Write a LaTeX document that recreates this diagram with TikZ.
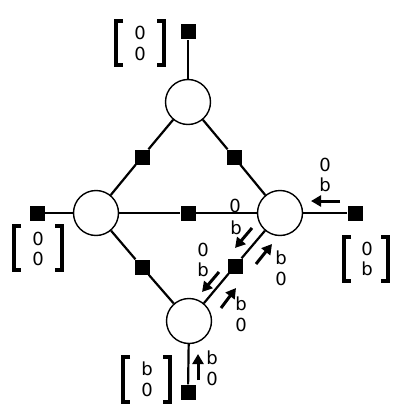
\documentclass[tikz,border=0pt]{standalone}
\usepackage{fontspec}
\setmainfont{DejaVu Sans}
\usetikzlibrary{arrows.meta}
\tikzset{
  var/.style={circle,draw,line width=1.4pt,fill=white,minimum size=45pt,inner sep=0pt},
  fac/.style={rectangle,fill=black,minimum size=15pt,inner sep=0pt},
  edge/.style={line width=2.2pt},
  msg/.style={line width=3pt,-{Triangle[length=10pt,width=11pt]}},
  lbl/.style={font=\fontsize{18}{21}\selectfont,inner sep=0pt},
  brk/.style={line width=4pt},
}
\newcommand{\brkt}[4]{% x1 x2 ytop ybot
  \draw[brk] (#1+7,#3)--(#1,#3)--(#1,#4)--(#1+7,#4);
  \draw[brk] (#2-7,#3)--(#2,#3)--(#2,#4)--(#2-7,#4);
}
\begin{document}
\begin{tikzpicture}[x=1pt,y=-1pt]
\useasboundingbox (0,0) rectangle (407,412);
% variable nodes
\node[var] (ct) at (188,102) {};
\node[var] (cl) at (96,213) {};
\node[var] (cr) at (280,213) {};
\node[var] (cb) at (189,321) {};
% factor nodes
\node[fac] (ft) at (188,32) {};
\node[fac] (fl) at (37,213) {};
\node[fac] (fr) at (355,213) {};
\node[fac] (fb) at (188,392) {};
\node[fac] (fm) at (188,213) {};
\node[fac] (ful) at (142,157) {};
\node[fac] (fur) at (234,157) {};
\node[fac] (fll) at (142,267) {};
\node[fac] (flr) at (235,266) {};
% edges
\draw[edge] (ct) -- (ft);
\draw[edge] (ct) -- (ful) -- (cl);
\draw[edge] (ct) -- (fur) -- (cr);
\draw[edge] (cl) -- (fm) -- (cr);
\draw[edge] (cl) -- (fll) -- (cb);
\draw[edge] (cr) -- (flr) -- (cb);
\draw[edge] (cl) -- (fl);
\draw[edge] (cr) -- (fr);
\draw[edge] (cb) -- (fb);
% message arrows
\coordinate (a1s) at (340,201); \coordinate (a1e) at (311,201);
\coordinate (a2s) at (252,228); \coordinate (a2e) at (235,248);
\coordinate (a3s) at (219,272); \coordinate (a3e) at (202,292);
\coordinate (a4s) at (256,264); \coordinate (a4e) at (272,244);
\coordinate (a5s) at (221,308); \coordinate (a5e) at (236,288);
\coordinate (a6s) at (198,380); \coordinate (a6e) at (198,354);
\draw[msg] (a1s) -- (a1e);
\draw[msg] (a2s) -- (a2e);
\draw[msg] (a3s) -- (a3e);
\draw[msg] (a4s) -- (a4e);
\draw[msg] (a5s) -- (a5e);
\draw[msg] (a6s) -- (a6e);
% message labels
\node[lbl] (l1a) at (325,165) {0};
\node[lbl] (l1b) at (325,185) {b};
\node[lbl] (l2a) at (235,206) {0};
\node[lbl] (l2b) at (236,228) {b};
\node[lbl] (l3a) at (203,250) {0};
\node[lbl] (l3b) at (203,270) {b};
\node[lbl] (l4a) at (281,258) {b};
\node[lbl] (l4b) at (281,279) {0};
\node[lbl] (l5a) at (241,304) {b};
\node[lbl] (l5b) at (241,325) {0};
\node[lbl] (l6a) at (212,358) {b};
\node[lbl] (l6b) at (212,379) {0};
% bracketed vectors
\brkt{116}{164}{21}{65}
\node[lbl] (v1a) at (140,33) {0};
\node[lbl] (v1b) at (140,54) {0};
\brkt{14}{62}{226}{270}
\node[lbl] (v2a) at (38,239) {0};
\node[lbl] (v2b) at (38,259) {0};
\brkt{344}{388}{237}{281}
\node[lbl] (v3a) at (367,249) {0};
\node[lbl] (v3b) at (367,269) {b};
\brkt{123}{170}{357}{402}
\node[lbl] (v4a) at (147,369) {b};
\node[lbl] (v4b) at (147,390) {0};
\end{tikzpicture}
\end{document}
